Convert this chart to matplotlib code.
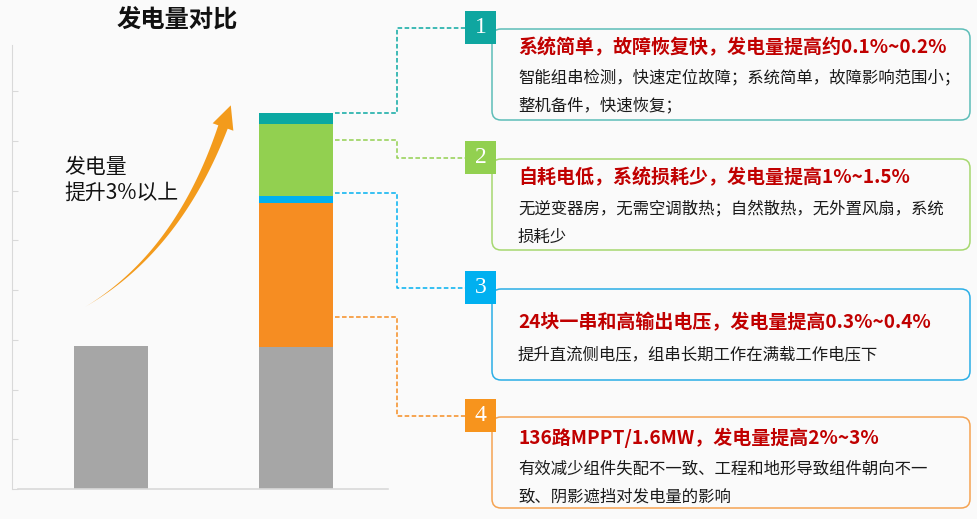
import matplotlib
matplotlib.use("Agg")
import matplotlib.pyplot as plt
import numpy as np
from matplotlib.patches import FancyBboxPatch, Rectangle, Polygon

plt.rcParams["font.family"] = ["Noto Sans CJK SC", "DejaVu Sans"]

# ---- data -------------------------------------------------------------
bar_pos = [0, 1]
base_values = [2.88, 2.86]
# stacked gains on the second bar, bottom -> top
gain_values = [2.90, 0.14, 1.45, 0.22]
gain_colors = ["#F68D22", "#00B0F0", "#92D050", "#0AA8A2"]
# where each leader line leaves the bar (data units), bottom -> top
leader_levels = [3.46, 5.96, 7.02, 7.57]

title = "发电量对比"
arrow_label = ["发电量", "提升3%以上"]

box_numbers = ["1", "2", "3", "4"]
box_headings = [
    "系统简单，故障恢复快，发电量提高约0.1%~0.2%",
    "自耗电低，系统损耗少，发电量提高1%~1.5%",
    "24块一串和高输出电压，发电量提高0.3%~0.4%",
    "136路MPPT/1.6MW，发电量提高2%~3%",
]
box_bodies = [
    ["智能组串检测，快速定位故障；系统简单，故障影响范围小；", "整机备件，快速恢复；"],
    ["无逆变器房，无需空调散热；自然散热，无外置风扇，系统", "损耗少"],
    ["提升直流侧电压，组串长期工作在满载工作电压下"],
    ["有效减少组件失配不一致、工程和地形导致组件朝向不一", "致、阴影遮挡对发电量的影响"],
]
box_square_colors = ["#0FA6A0", "#92D050", "#00B0F0", "#F7941D"]
box_edge_colors = ["#5DBDB8", "#A6D86F", "#2AAEE6", "#F5A352"]
# box 1..4 correspond to gain segments top -> bottom
box_gain_index = [3, 2, 1, 0]

W, H = 977, 519
fig = plt.figure(figsize=(W / 100, H / 100), dpi=100)
fig.patch.set_facecolor("#FAFAFA")

# ---- bar chart --------------------------------------------------------
ax = fig.add_axes([18 / W, (H - 489) / H, (388 - 18) / W, (489 - 45) / H])
ax.set_facecolor("none")
bw = 0.4
ax.bar(bar_pos, base_values, width=bw, color="#A6A6A6", zorder=2)
bottom = base_values[1]
for v, c in zip(gain_values, gain_colors):
    ax.bar(bar_pos[1], v, width=bw, bottom=bottom, color=c, zorder=2)
    bottom += v
ax.set_xlim(-0.5, 1.5)
ax.set_ylim(0, 8.93)
ax.set_xticks([])
ax.set_yticks(np.arange(0, 9))
ax.tick_params(axis="y", direction="in", length=4.3, color="#D9D9D9",
               labelleft=False)
for s in ["top", "right"]:
    ax.spines[s].set_visible(False)
ax.spines["left"].set_position(("outward", 4.3))
ax.spines["left"].set_color("#D9D9D9")
ax.spines["bottom"].set_color("#D9D9D9")
ax.spines["bottom"].set_linewidth(1.2)

# ---- overlay in pixel coordinates ------------------------------------
ov = fig.add_axes([0, 0, 1, 1])
ov.set_xlim(0, W)
ov.set_ylim(H, 0)
ov.axis("off")
ov.set_facecolor("none")

ov.text(177, 20, title, ha="center", va="center", fontsize=17.5,
        fontweight="bold", color="#111111")

# curved arrow, tapering from a thin tail to a wide head
P0, C, P2 = np.array([85, 307]), np.array([178, 252]), np.array([223, 127])
t = np.linspace(0, 1, 80)[:, None]
pts = (1 - t) ** 2 * P0 + 2 * (1 - t) * t * C + t ** 2 * P2
der = 2 * (1 - t) * (C - P0) + 2 * t * (P2 - C)
der = der / np.linalg.norm(der, axis=1, keepdims=True)
nrm = np.column_stack([-der[:, 1], der[:, 0]])
hw = 5.0 * t ** 1.3
left = pts + nrm * hw
right = pts - nrm * hw
d = der[-1]
n = nrm[-1]
head = [P2 + 11 * n, P2 + 23 * d, P2 - 11 * n]
poly = np.vstack([left, head, right[::-1]])
ov.add_patch(Polygon(poly, closed=True, facecolor="#F39B1C", edgecolor="none"))

ov.text(64, 167, arrow_label[0], ha="left", va="center", fontsize=15, color="#111111")
ov.text(64, 193, arrow_label[1], ha="left", va="center", fontsize=15, color="#111111")

# right-hand info boxes
box_tops = [29, 159, 289, 417]
box_h = 91
heading_y = [47, 177, 323, 438]
body_y = [[78, 106], [209, 237], [355], [469, 497]]
fig.canvas.draw()
to_px = ax.transData
inv = ov.transData.inverted()
for i in range(4):
    top = box_tops[i]
    col = box_square_colors[i]
    ov.add_patch(FancyBboxPatch((492, top), 970 - 492, box_h,
                                boxstyle="round,pad=0,rounding_size=9",
                                facecolor="none", edgecolor=box_edge_colors[i],
                                linewidth=1.1, zorder=2))
    ov.add_patch(Rectangle((465, top - 18), 31, 33, facecolor=col,
                           edgecolor="none", zorder=3))
    ov.text(480.5, top - 1.5, box_numbers[i], ha="center", va="center",
            fontsize=17, color="white", family="Liberation Serif", zorder=4)
    ov.text(518, heading_y[i], box_headings[i], ha="left", va="center",
            fontsize=13.7, fontweight="bold", color="#C00000", zorder=4)
    for line, y in zip(box_bodies[i], body_y[i]):
        ov.text(518, y, line, ha="left", va="center", fontsize=11.8,
                color="#1A1A1A", zorder=4)

    # dashed leader from the bar segment to the number square
    g = box_gain_index[i]
    disp = to_px.transform((bar_pos[1] + bw / 2, leader_levels[g]))
    x0, y0 = inv.transform(disp)
    xs = [x0 + 2, 397, 397, 465]
    ys = [y0, y0, top - 1, top - 1]
    ov.plot(xs, ys, color=gain_colors[g], linewidth=1.1,
            linestyle=(0, (3.0, 1.6)), zorder=1)

fig.savefig("out.png", dpi=100, facecolor=fig.get_facecolor())
